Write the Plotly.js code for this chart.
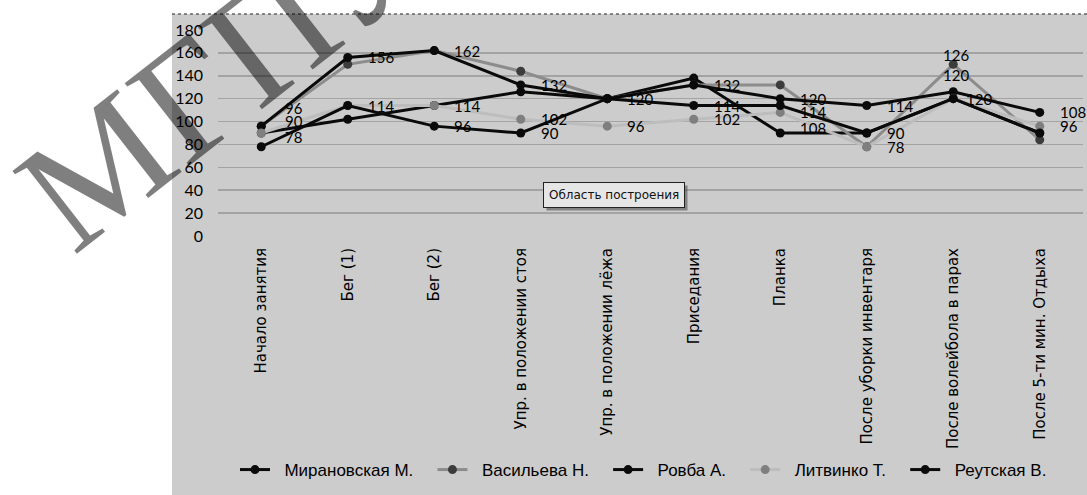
<!DOCTYPE html>
<html>
<head>
<meta charset="utf-8">
<script src="https://cdn.plot.ly/plotly-3.0.1.min.js"></script>
<style>html,body{margin:0;padding:0;background:#fff;}#chart{width:1087px;height:495px;}</style>
</head>
<body>
<div id="chart"></div>
<script>
// ---- data ----
const categories = ["Начало занятия","Бег (1)","Бег (2)","Упр. в положении стоя","Упр. в положении лёжа","Приседания","Планка","После уборки инвентаря","После волейбола в парах","После 5-ти мин. Отдыха"];
const seriesNames = ["Мирановская М.","Васильева Н.","Ровба А.","Литвинко Т.","Реутская В."];
const miranovskaya = [90,102,114,126,120,138,90,90,120,90];
const vasilyeva    = [96,150,162,144,120,132,132,78,150,84];
const rovba        = [96,156,162,132,120,132,120,114,126,108];
const litvinko     = [90,114,114,102,96,102,108,78,120,96];
const reutskaya    = [78,114,96,90,120,114,114,90,120,90];
// data labels shown in the picture (null = no label)
const rovbaLabels     = [96,156,162,132,120,132,120,114,126,108];
const litvinkoLabels  = [90,114,114,102,96,102,108,78,120,96];
const reutskayaLabels = [78,114,96,90,120,114,114,90,120,null];
const yTicks = [0,20,40,60,80,100,120,140,160,180];

// ---- label nudges (pixels) ----
const nudgeY = {
  rov: [18,0,0,0,0,0,0,0,37,0],
  lit: [12,0,0,0,0,0,-16,0,24,0],
  reu: [10,0,0,0,0,0,-6,0,0,0]
};
const nudgeX = {
  rov: [4,0,0,0,0,0,0,0,-30,0],
  lit: [4,0,0,0,0,0,0,0,-30,0],
  reu: [4,0,0,0,0,0,0,0,-7,0]
};

const styles = [
  {line:'#0a0a0a', marker:'#0a0a0a'},
  {line:'#8c8c8c', marker:'#3c3c3c'},
  {line:'#0a0a0a', marker:'#0a0a0a'},
  {line:'#bdbdbd', marker:'#7f7f7f'},
  {line:'#0a0a0a', marker:'#0a0a0a'}
];
const allValues = [miranovskaya, vasilyeva, rovba, litvinko, reutskaya];
const NB = '\u00a0';

const traces = allValues.map((vals, i) => ({
  type: 'scatter', mode: 'lines+markers',
  x: categories, y: vals, name: NB + NB + seriesNames[i] + NB + NB + NB,
  line: {color: styles[i].line, width: 3},
  marker: {color: styles[i].marker, size: 9},
  hoverinfo: 'skip'
}));

const annotations = [];
const placed = new Set();
function addLabels(labels, key) {
  labels.forEach((v, k) => {
    if (v === null) return;
    const dx = 18 + nudgeX[key][k], dy = nudgeY[key][k];
    const id = k + '|' + v + '|' + dx + '|' + dy;
    if (placed.has(id)) return;
    placed.add(id);
    annotations.push({
      xref: 'x', yref: 'y', x: categories[k], y: v, text: String(v),
      showarrow: false, xanchor: 'left', yanchor: 'middle',
      xshift: dx, yshift: dy,
      font: {family: 'Lato, "DejaVu Sans", sans-serif', size: 15, color: '#000'}
    });
  });
}
addLabels(litvinkoLabels, 'lit');
addLabels(reutskayaLabels, 'reu');
addLabels(rovbaLabels, 'rov');

// tooltip shadow + tooltip
annotations.push({
  xref: 'paper', yref: 'paper', x: 0.458, y: 0.199, xanchor: 'center', yanchor: 'middle',
  xshift: 3, yshift: -3,
  text: 'Область построения', showarrow: false,
  font: {family: '"DejaVu Sans", sans-serif', size: 12, color: 'rgba(0,0,0,0)'},
  bgcolor: 'rgba(70,70,70,0.55)', borderpad: 5, borderwidth: 1, bordercolor: 'rgba(0,0,0,0)'
});
annotations.push({
  xref: 'paper', yref: 'paper', x: 0.458, y: 0.199, xanchor: 'center', yanchor: 'middle',
  text: 'Область построения', showarrow: false,
  font: {family: '"DejaVu Sans", sans-serif', size: 12, color: '#111'},
  bgcolor: '#e6e6e6', borderpad: 5, borderwidth: 1, bordercolor: '#222'
});
// watermark
annotations.push({
  xref: 'paper', yref: 'paper', x: 0.0058, y: 0.80, xanchor: 'center', yanchor: 'middle',
  text: 'МГПУ', showarrow: false, textangle: -38,
  font: {family: '"Liberation Serif", "DejaVu Serif", serif', size: 160, color: 'rgba(0,0,0,0.5)'}
});

const layout = {
  width: 1087, height: 495,
  margin: {l: 218, r: 4, t: 30, b: 259, pad: 0},
  paper_bgcolor: '#ffffff', plot_bgcolor: '#cccccc',
  showlegend: true,
  legend: {
    orientation: 'h', x: 0.5, xanchor: 'center', y: -1.136, yanchor: 'middle',
    font: {family: '"Liberation Sans", Arial, sans-serif', size: 17, color: '#000'},
    bgcolor: 'rgba(0,0,0,0)'
  },
  xaxis: {
    type: 'category', range: [-0.5, 9.5], tickangle: -90,
    tickfont: {family: '"DejaVu Sans", sans-serif', size: 15, color: '#000'},
    showgrid: false, showline: false, zeroline: false, ticks: '', ticklabelstandoff: 8,
    fixedrange: true
  },
  yaxis: {
    range: [0, 180], tickvals: yTicks, ticktext: yTicks.map(String),
    gridcolor: '#a3a3a3', gridwidth: 1.5, zeroline: false, showline: false, ticks: '',
    tickfont: {family: 'Lato, "DejaVu Sans", sans-serif', size: 16, color: '#000'},
    ticklabelstandoff: 14, fixedrange: true
  },
  shapes: [
    {type: 'rect', xref: 'paper', yref: 'paper', x0: -0.0532, x1: 1.01, y0: -1.3, y1: 1.0777,
     fillcolor: '#cccccc', line: {width: 0}, layer: 'below'},
    {type: 'line', xref: 'paper', yref: 'paper', x0: -0.0532, x1: 1.01, y0: 1.0777, y1: 1.0777,
     line: {color: '#222', width: 1, dash: 'dot'}, layer: 'above'}
  ],
  annotations: annotations
};

Plotly.newPlot('chart', traces, layout, {displayModeBar: false, staticPlot: true});
</script>
</body>
</html>
